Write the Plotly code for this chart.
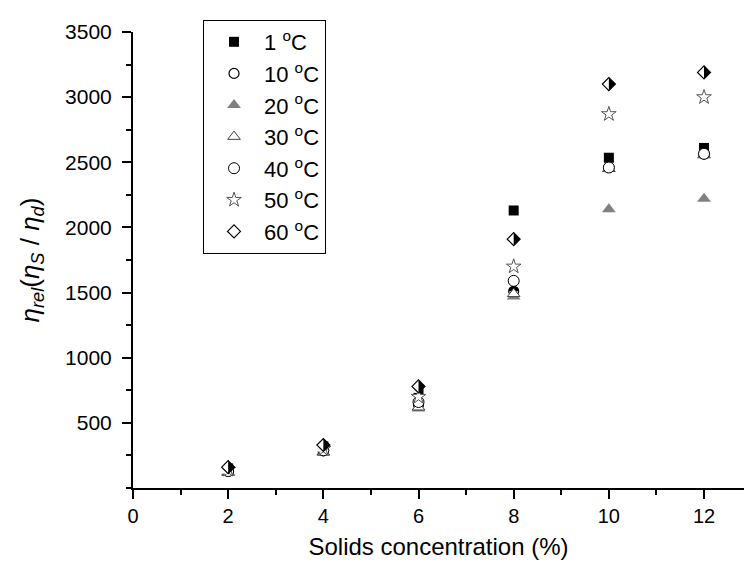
import plotly.graph_objects as go

conc = [2, 4, 6, 8, 10, 12]
eta_1 = [150, 320, 760, 2130, 2535, 2610]
eta_10 = [130, 285, 640, 1510, 2460, 2565]
eta_20 = [115, 270, 610, 1470, 2140, 2220]
eta_30 = [120, 275, 620, 1490, 2450, 2555]
eta_40 = [130, 290, 660, 1590, 2460, 2565]
eta_50 = [140, 300, 700, 1700, 2870, 3000]
eta_60 = [160, 330, 780, 1910, 3100, 3190]
labels = ["1 <sup>o</sup>C", "10 <sup>o</sup>C", "20 <sup>o</sup>C", "30 <sup>o</sup>C",
          "40 <sup>o</sup>C", "50 <sup>o</sup>C", "60 <sup>o</sup>C"]
y_ticks = [500, 1000, 1500, 2000, 2500, 3000, 3500]

FONT = "Liberation Sans, Arial, sans-serif"
fig = go.Figure()

def add(y, name, group, symbol, color, line_color, size, lw=1.2, show=True, extra=None):
    m = dict(symbol=symbol, color=color, size=size, line=dict(color=line_color, width=lw))
    if extra:
        m.update(extra)
    fig.add_trace(go.Scatter(x=conc, y=y, mode="markers", name=name, legendgroup=group,
                             showlegend=show, marker=m, hoverinfo="skip" if not show else None))

# 1 C
add(eta_1, labels[0], "g1", "square", "black", "black", 10, 0)
# 10 C : half-filled circle (black disk, white lower half, outline)
add(eta_10, labels[1], "g2", "circle", "black", "black", 10, 0, show=False)
add(eta_10, labels[1], "g2", "square", "white", "white", 10, 0, show=False,
    extra=dict(angle=0, standoff=5))
add(eta_10, labels[1], "g2", "circle", "rgba(0,0,0,0)", "black", 10, 1.2)
# 20 C
add(eta_20, labels[2], "g3", "triangle-up", "#808080", "#808080", 12, 0)
# 30 C
add(eta_30, labels[3], "g4", "triangle-up", "white", "#404040", 11, 1.0)
# 40 C
add(eta_40, labels[4], "g5", "circle", "white", "black", 11, 1.0)
# 50 C
add(eta_50, labels[5], "g6", "star", "white", "#555555", 11, 1.0)
# 60 C : diamond, right half black (black diamond, white left cover, outline)
add(eta_60, labels[6], "g7", "diamond", "black", "black", 10, 0, show=False)
add(eta_60, labels[6], "g7", "square", "white", "white", 13, 0, show=False,
    extra=dict(angle=90, standoff=6.5))
add(eta_60, labels[6], "g7", "diamond", "rgba(0,0,0,0)", "black", 10, 1.2)

fig.update_layout(
    width=744, height=568,
    margin=dict(l=133, r=0, t=32, b=80),
    paper_bgcolor="white", plot_bgcolor="white",
    font=dict(family=FONT, color="black", size=20),
    showlegend=True,
    legend=dict(x=0.1146, y=1.0263, xanchor="left", yanchor="top",
                bgcolor="white", bordercolor="black", borderwidth=1,
                font=dict(family=FONT, size=22, color="black"),
                itemwidth=50,
                tracegroupgap=2, traceorder="normal"),
    xaxis=dict(range=[0, 12.84], tickmode="linear", tick0=0, dtick=2,
               showline=True, linecolor="black", linewidth=2,
               ticks="outside", ticklen=9, tickwidth=2, tickcolor="black",
               minor=dict(tickmode="linear", tick0=0, dtick=1, ticks="outside",
                          ticklen=5, tickwidth=2, tickcolor="black"),
               showgrid=False, zeroline=False,
               tickfont=dict(size=20),
               title=dict(text="Solids concentration (%)", font=dict(size=24), standoff=12)),
    yaxis=dict(range=[0, 3500], tickmode="array", tickvals=y_ticks,
               showline=True, linecolor="black", linewidth=2,
               ticks="outside", ticklen=9, tickwidth=2, tickcolor="black",
               ticklabelstandoff=6,
               minor=dict(tickmode="linear", tick0=0, dtick=250, ticks="outside",
                          ticklen=5, tickwidth=2, tickcolor="black"),
               showgrid=False, zeroline=False,
               tickfont=dict(size=21),
               title=dict(text="<i>η</i><sub><i>rel</i></sub>(<i>η</i><sub><i>S</i></sub> / <i>η</i><sub><i>d</i></sub>)",
                          font=dict(size=26), standoff=18)),
)

fig.write_html("out.html")
